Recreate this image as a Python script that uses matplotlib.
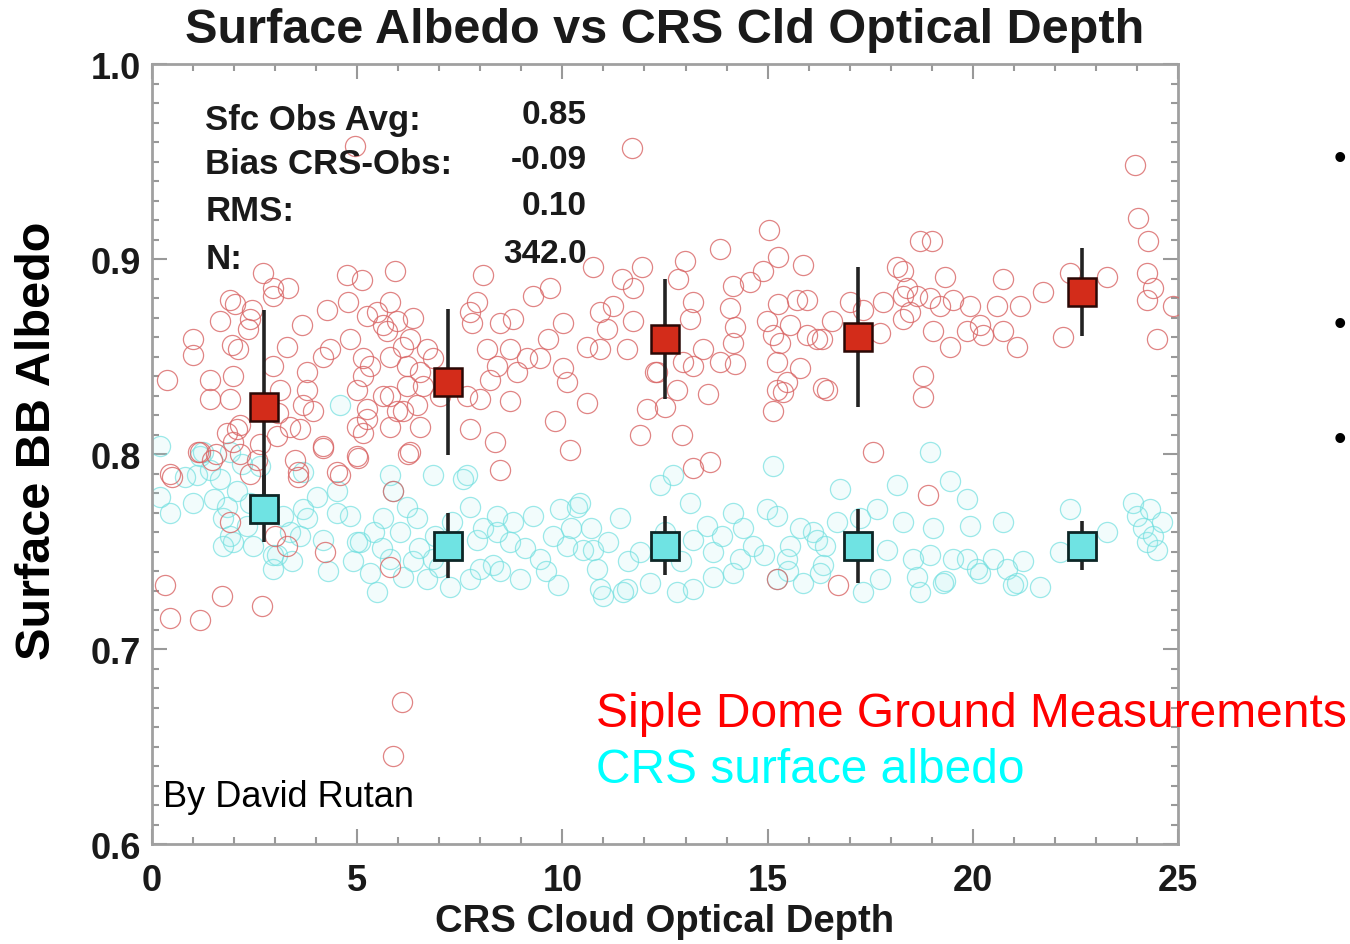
import matplotlib
matplotlib.use("Agg")
import matplotlib.pyplot as plt
from matplotlib.ticker import MultipleLocator, FormatStrFormatter

plt.rcParams['font.family'] = ['Liberation Sans', 'DejaVu Sans']

# Siple Dome ground measurements (red open circles): optical depth, albedo
obs_x = [0.32, 0.44, 1.17, 1.71, 2.68, 0.37, 0.49, 1.12, 1.46, 1.97, 2.39, 3.56, 4.17, 4.59, 5.02,
         6.24, 5.87, 1.90, 4.22, 5.80, 3.29, 3.00, 6.09, 5.87,
         2.70, 2.95, 3.31, 2.95, 2.02, 1.66, 2.39, 1.00, 1.00, 2.10, 1.41, 1.97, 2.95, 3.29, 3.65,
         4.26, 4.78, 4.75, 5.12, 5.92, 5.80, 5.48, 5.63, 4.34, 4.17, 4.82, 5.14, 5.31, 3.78, 3.78,
         3.68, 3.92, 1.41, 1.90, 1.83, 2.07, 3.05, 3.61, 4.17, 5.00, 5.24, 5.00, 5.63, 5.97, 5.00,
         1.17, 0.44, 3.56, 4.51, 2.63, 3.07, 3.12, 2.44, 2.34, 1.95, 1.90, 2.14, 2.14, 1.56, 2.56,
         3.48, 3.36, 5.24, 5.73, 5.97, 6.12, 5.80, 5.14, 5.80, 6.12, 5.24, 5.14, 5.80,
         4.95, 11.70,
         8.07, 9.29, 9.70, 10.75, 11.94, 11.45, 11.72, 6.36, 7.92, 7.75, 7.80, 8.48, 8.80, 10.01,
         9.65, 10.92, 11.23, 11.09, 10.60, 10.92, 11.57, 11.72, 6.29, 6.70, 6.21, 6.53, 6.85, 6.21,
         6.60, 6.46, 7.02, 7.68, 7.99, 8.16, 8.41, 8.72, 8.89, 9.14, 8.24, 8.72, 9.45, 10.01, 10.11,
         10.60, 9.82, 10.19, 7.75, 8.36, 8.48, 6.29, 6.53, 11.89, 12.06, 12.26,
         13.84, 12.99, 12.82, 13.18, 13.11, 13.43, 12.94, 13.18, 12.31, 12.79, 12.50, 13.55, 12.91,
         13.18, 13.60, 14.16, 14.57, 14.89, 15.25, 15.86, 14.08, 14.21, 14.16, 13.84, 14.21, 14.99,
         15.25, 15.13, 15.30, 15.55, 15.72, 15.96, 15.96, 16.20, 16.57, 15.23, 15.79, 15.47, 15.38,
         15.23, 15.13, 16.35, 17.01, 17.32, 17.74, 17.57, 17.81, 18.15, 18.30, 18.30, 15.03, 16.33,
         16.45,
         23.95, 24.03, 24.27, 18.71, 19.01, 19.32, 18.30, 18.40, 18.64, 18.47, 18.96, 19.20, 19.52,
         19.03, 19.44, 19.93, 19.86, 20.18, 20.25, 20.59, 20.74, 20.74, 21.08, 21.15, 21.71, 22.20,
         22.37, 23.27, 24.24, 24.24, 24.39, 24.49, 24.88, 18.79, 18.79, 18.91, 16.72, 15.23]
obs_y = [0.733, 0.716, 0.715, 0.727, 0.722, 0.838, 0.788, 0.801, 0.797, 0.806, 0.790, 0.788, 0.803,
         0.789, 0.798, 0.800, 0.781, 0.765, 0.750, 0.742, 0.753, 0.758, 0.673, 0.645,
         0.893, 0.885, 0.885, 0.881, 0.877, 0.868, 0.869, 0.859, 0.851, 0.854, 0.838, 0.840, 0.845,
         0.855, 0.866, 0.874, 0.878, 0.892, 0.889, 0.894, 0.878, 0.873, 0.866, 0.854, 0.850, 0.859,
         0.849, 0.845, 0.842, 0.833, 0.825, 0.822, 0.828, 0.828, 0.811, 0.813, 0.809, 0.813, 0.804,
         0.814, 0.823, 0.833, 0.830, 0.822, 0.799, 0.801, 0.790, 0.791, 0.791, 0.805, 0.821, 0.833,
         0.874, 0.864, 0.856, 0.879, 0.815, 0.800, 0.800, 0.797, 0.797, 0.814, 0.871, 0.863, 0.868,
         0.855, 0.850, 0.840, 0.830, 0.822, 0.818, 0.811, 0.814,
         0.958, 0.957,
         0.892, 0.881, 0.885, 0.896, 0.896, 0.890, 0.885, 0.870, 0.878, 0.873, 0.867, 0.867, 0.869,
         0.867, 0.859, 0.873, 0.876, 0.864, 0.855, 0.854, 0.854, 0.868, 0.859, 0.854, 0.845, 0.842,
         0.849, 0.835, 0.835, 0.825, 0.830, 0.830, 0.828, 0.854, 0.845, 0.854, 0.842, 0.849, 0.838,
         0.827, 0.849, 0.844, 0.837, 0.826, 0.817, 0.802, 0.813, 0.806, 0.792, 0.801, 0.814, 0.810,
         0.823, 0.842,
         0.905, 0.899, 0.890, 0.878, 0.869, 0.854, 0.847, 0.845, 0.842, 0.833, 0.824, 0.831, 0.810,
         0.793, 0.796, 0.886, 0.888, 0.894, 0.901, 0.897, 0.875, 0.865, 0.857, 0.847, 0.846, 0.868,
         0.877, 0.861, 0.857, 0.866, 0.879, 0.879, 0.861, 0.859, 0.868, 0.847, 0.844, 0.837, 0.832,
         0.833, 0.822, 0.834, 0.878, 0.874, 0.862, 0.801, 0.878, 0.896, 0.881, 0.869, 0.915, 0.859,
         0.833,
         0.948, 0.921, 0.909, 0.909, 0.909, 0.891, 0.894, 0.885, 0.881, 0.873, 0.880, 0.876, 0.879,
         0.863, 0.855, 0.876, 0.863, 0.866, 0.861, 0.876, 0.890, 0.863, 0.855, 0.876, 0.883, 0.860,
         0.893, 0.891, 0.893, 0.879, 0.885, 0.859, 0.876, 0.840, 0.829, 0.779, 0.733, 0.736]

# CRS surface albedo (cyan open circles)
crs_x = [0.19, 0.44, 1.00, 1.17, 1.41, 1.90, 2.07, 1.73, 2.39, 2.31, 1.97, 2.95, 3.19, 3.68, 4.17,
         4.51, 4.82, 5.00, 5.31, 5.48, 5.87, 6.04, 6.46, 6.36, 6.85, 7.26, 7.75, 7.92, 8.31, 7.68,
         6.85, 2.63,
         0.19, 1.10, 1.24, 1.66, 1.83, 1.90, 1.73, 2.46, 3.05, 2.95, 3.36, 3.61, 3.78, 4.02, 3.68,
         4.51, 5.07, 4.90, 5.80, 6.12, 6.70, 5.63, 5.80, 6.21, 7.58, 7.75, 8.07, 8.41, 8.48, 7.99,
         8.72, 8.97, 9.28, 9.45, 9.77, 9.94, 10.36, 10.50, 10.84, 10.99, 11.40, 11.57, 11.89, 12.13,
         12.38,
         8.41, 10.11, 10.43, 10.75, 10.92, 11.48, 12.69, 12.79, 13.18, 13.67, 14.16, 14.33, 14.99,
         15.13, 15.23, 15.55, 16.11, 15.86, 16.35,
         13.11, 13.18, 13.52, 13.67, 14.16, 14.64, 15.23, 15.79, 15.47, 16.20, 16.76, 17.25, 17.67,
         18.15, 18.30, 17.91, 17.74, 18.54, 18.71, 18.96, 19.03, 19.44, 19.27, 19.86, 19.93, 19.86,
         20.18, 20.49, 20.74, 20.83, 21.08, 21.22, 21.64, 22.12, 22.37, 23.27, 24.00, 24.32, 24.24,
         24.49, 24.15,
         18.96, 19.52, 20.10, 18.64, 19.32, 20.98, 17.32, 16.40, 16.28, 24.39, 4.58,
         5.40, 6.90, 7.30, 7.00, 8.80, 9.10, 9.60, 10.20, 10.70, 11.10, 11.60, 12.50, 12.90, 13.90,
         14.40, 14.90, 15.50, 16.70, 2.20, 0.80, 1.50, 3.40, 4.30, 5.60, 6.50, 9.90, 23.90, 24.60]
crs_y = [0.804, 0.770, 0.775, 0.799, 0.792, 0.801, 0.781, 0.767, 0.775, 0.763, 0.755, 0.748, 0.768,
         0.772, 0.756, 0.781, 0.768, 0.755, 0.739, 0.729, 0.781, 0.760, 0.767, 0.745, 0.746, 0.732,
         0.736, 0.756, 0.743, 0.789, 0.789, 0.794,
         0.778, 0.789, 0.801, 0.787, 0.773, 0.758, 0.753, 0.753, 0.748, 0.741, 0.760, 0.758, 0.767,
         0.778, 0.791, 0.770, 0.755, 0.745, 0.746, 0.737, 0.736, 0.767, 0.789, 0.773, 0.787, 0.773,
         0.762, 0.768, 0.740, 0.741, 0.755, 0.736, 0.768, 0.746, 0.758, 0.772, 0.773, 0.751, 0.741,
         0.727, 0.767, 0.731, 0.750, 0.734, 0.784,
         0.760, 0.753, 0.775, 0.751, 0.731, 0.729, 0.789, 0.729, 0.756, 0.737, 0.770, 0.746, 0.772,
         0.794, 0.736, 0.753, 0.760, 0.734, 0.743,
         0.775, 0.731, 0.763, 0.750, 0.739, 0.753, 0.768, 0.762, 0.746, 0.756, 0.782, 0.767, 0.772,
         0.784, 0.765, 0.751, 0.736, 0.746, 0.729, 0.801, 0.762, 0.786, 0.734, 0.777, 0.763, 0.746,
         0.739, 0.746, 0.765, 0.741, 0.734, 0.745, 0.732, 0.750, 0.772, 0.760, 0.768, 0.772, 0.755,
         0.751, 0.762,
         0.748, 0.746, 0.741, 0.737, 0.735, 0.733, 0.729, 0.753, 0.739, 0.758, 0.825,
         0.760, 0.758, 0.765, 0.742, 0.765, 0.752, 0.740, 0.762, 0.762, 0.755, 0.745, 0.760, 0.745,
         0.758, 0.762, 0.748, 0.740, 0.765, 0.795, 0.788, 0.777, 0.745, 0.740, 0.752, 0.752, 0.733,
         0.775, 0.765]

# binned means with standard deviations
bin_x = [2.72, 7.21, 12.49, 17.21, 22.66]
obs_mean = [0.824, 0.837, 0.859, 0.860, 0.883]
obs_std = [0.050, 0.0375, 0.031, 0.036, 0.0225]
crs_mean = [0.772, 0.753, 0.753, 0.753, 0.753]
crs_std = [0.017, 0.0165, 0.015, 0.019, 0.0125]

stat_labels = ["Sfc Obs Avg:", "Bias CRS-Obs:", "RMS:", "N:"]
stat_values = ["0.85", "-0.09", "0.10", "342.0"]

fig = plt.figure(figsize=(13.5, 9.45), dpi=100)
ax = fig.add_axes([0.1126, 0.1058, 0.76, 0.8254])

ax.plot(crs_x, crs_y, 'o', ms=14.5, mfc=(0.60, 0.93, 0.93, 0.12), mec=(0.45, 0.88, 0.88, 0.7),
        mew=0.9, zorder=2)
ax.plot(obs_x, obs_y, 'o', ms=14.5, mfc='none', mec=(0.85, 0.40, 0.40, 0.8), mew=0.9, zorder=3)

ax.errorbar(bin_x, obs_mean, yerr=obs_std, fmt='s', ms=20, mfc='#d32c1a', mec='#2a0805',
            mew=1.8, ecolor='#222222', elinewidth=2.6, capsize=0, zorder=5)
ax.errorbar(bin_x, crs_mean, yerr=crs_std, fmt='s', ms=20, mfc='#6fe3e3', mec='#0c2626',
            mew=2.0, ecolor='#222222', elinewidth=2.6, capsize=0, zorder=6)

ax.set_xlim(0, 25)
ax.set_ylim(0.6, 1.0)
ax.xaxis.set_major_locator(MultipleLocator(5))
ax.xaxis.set_minor_locator(MultipleLocator(1))
ax.yaxis.set_major_locator(MultipleLocator(0.1))
ax.yaxis.set_minor_locator(MultipleLocator(0.01))
ax.yaxis.set_major_formatter(FormatStrFormatter('%.1f'))
ax.tick_params(which='both', direction='in', top=True, right=True, color='#999999', width=1.5)
ax.tick_params(which='major', length=11)
ax.tick_params(which='minor', length=5)
ax.tick_params(axis='x', which='major', pad=14, labelsize=26, labelcolor='#1a1a1a')
ax.tick_params(axis='y', which='major', pad=8, labelsize=26, labelcolor='#1a1a1a')
for lab in ax.get_xticklabels() + ax.get_yticklabels():
    lab.set_fontweight('bold')
for sp in ax.spines.values():
    sp.set_color('#a0a0a0')
    sp.set_linewidth(2)

ax.set_xlabel("CRS Cloud Optical Depth", fontsize=27.5, fontweight='bold', color='#1a1a1a',
              labelpad=3)
fig.text(0.028, 0.534, "Surface BB Albedo", rotation=90, fontsize=35, fontweight='bold',
         ha='center', va='center', color='black')
fig.text(0.492, 0.968, "Surface Albedo vs CRS Cld Optical Depth", fontsize=35, fontweight='bold',
         ha='center', va='center', color='#1a1a1a')

row_y = [0.929, 0.872, 0.812, 0.751]
for lab, val, yy in zip(stat_labels, stat_values, row_y):
    ax.text(0.052, yy, lab, transform=ax.transAxes, fontsize=25, fontweight='bold',
            ha='left', va='center', color='#1a1a1a', zorder=7)
    ax.text(0.424, yy + 0.006, val, transform=ax.transAxes, fontsize=24, fontweight='bold',
            ha='right', va='center', color='#1a1a1a', zorder=7)

fig.text(0.1207, 0.1566, "By David Rutan", fontsize=26, ha='left', va='center', color='black')
fig.text(0.4415, 0.2434, "Siple Dome Ground Measurements", fontsize=34.5, ha='left', va='center',
         color='#ff0000')
fig.text(0.4415, 0.185, "CRS surface albedo", fontsize=34.5, ha='left', va='center', color='#00ffff')

for yy in [0.831, 0.656, 0.534]:
    fig.text(0.9926, yy, "\u2022", fontsize=26, ha='center', va='center', color='black')

fig.savefig("out.png", dpi=100)
